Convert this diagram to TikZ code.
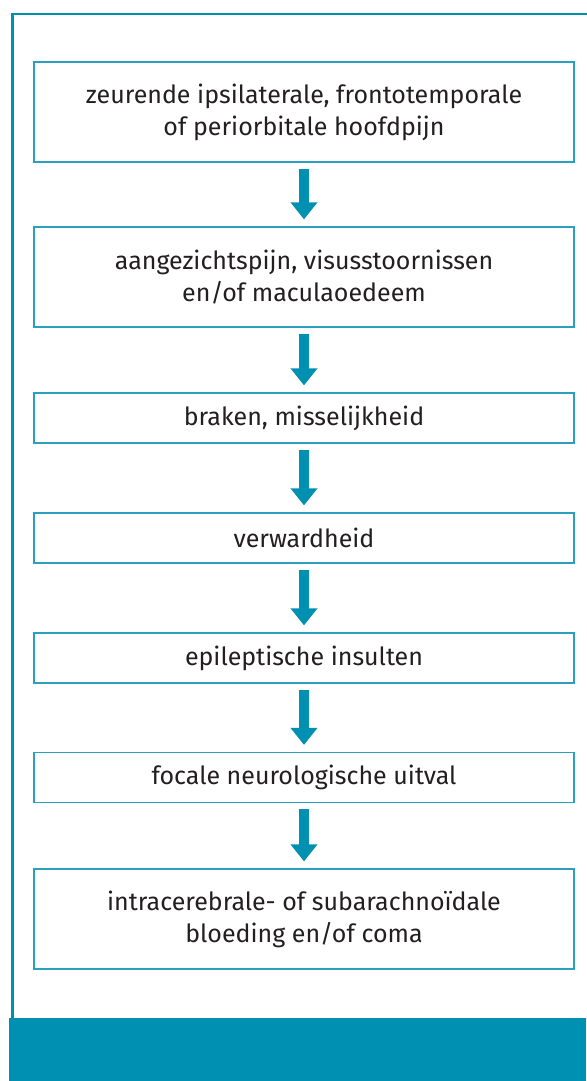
\documentclass[tikz,border=0pt]{standalone}
\usepackage{fontspec}
\setmainfont{Fira Sans}
\usetikzlibrary{arrows.meta}
\definecolor{teal1}{HTML}{0090B2}
\definecolor{boxline}{HTML}{2AA0BE}
\definecolor{txt}{HTML}{231F20}
\begin{document}
\begin{tikzpicture}[x=1pt,y=-1pt,
  stepbox/.style={draw=boxline, line width=1.3pt, minimum width=540pt, inner sep=0pt, align=center,
     text=txt, font=\fontsize{25}{32}\selectfont},
  flow/.style={draw=teal1, line width=10pt, -{Triangle[width=26pt,length=17pt]}}]
\useasboundingbox (0,0) rectangle (586,1081);
\fill[white] (0,0) rectangle (586,1081);
% frame
\draw[teal1, line width=2.5pt] (12.5,1018) -- (12.5,14) -- (590,14);
\fill[teal1] (9,1018) rectangle (586,1081);
% boxes
\node[stepbox, minimum height=100pt] (b1) at (304,112) {zeurende ipsilaterale, frontotemporale\\of periorbitale hoofdpijn};
\node[stepbox, minimum height=100pt] (b2) at (304,277) {aangezichtspijn, visusstoornissen\\en/of maculaoedeem};
\node[stepbox, minimum height=50pt] (b3) at (304,418) {braken, misselijkheid};
\node[stepbox, minimum height=50pt] (b4) at (304,538) {verwardheid};
\node[stepbox, minimum height=50pt] (b5) at (304,658) {epileptische insulten};
\node[stepbox, minimum height=50pt] (b6) at (304,777.5) {focale neurologische uitval};
\node[stepbox, minimum height=100pt] (b7) at (304,919) {intracerebrale- of subarachnoïdale\\bloeding en/of coma};
% arrows
\foreach \a/\b in {b1/b2,b2/b3,b3/b4,b4/b5,b5/b6,b6/b7}
  \draw[flow] ([yshift=-6pt]\a.south) -- ([yshift=7pt]\b.north);
\end{tikzpicture}
\end{document}
